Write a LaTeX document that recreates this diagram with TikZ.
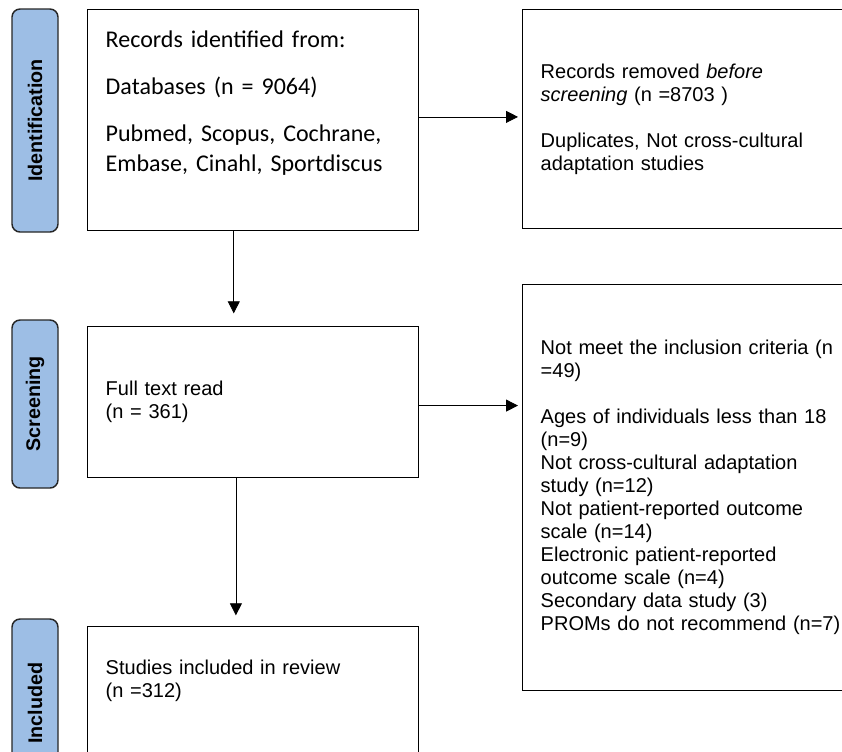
\documentclass[tikz,border=0pt]{standalone}
\usepackage{fontspec}
\setmainfont{Liberation Sans}
\newfontfamily\calfont{Carlito}
\usepackage{tikz}
\usetikzlibrary{arrows.meta}
\definecolor{phase}{RGB}{157,190,229}

\begin{document}
\begin{tikzpicture}[x=0.75pt,y=-0.75pt,
  box/.style={draw, line width=1.1pt, anchor=north west, align=left,
    text width=221.25pt, inner xsep=13.5pt, minimum width=248.25pt,
    font=\fontsize{15}{17.25}\selectfont},
  phasebox/.style={draw=black!85, line width=1.1pt, fill=phase, rounded corners=6pt,
    rotate=90, minimum height=34.5pt, font=\fontsize{14.8}{16}\selectfont\bfseries},
  arr/.style={line width=0.6pt, -{Triangle[length=9pt,width=9pt]}}]
\useasboundingbox (0,0) rectangle (842,751);
% phase labels
\node[phasebox, minimum width=167.25pt] (idf) at (35,120.5) {Identification};
\node[phasebox, minimum width=126pt] (scr) at (35,404) {Screening};
\node[phasebox, minimum width=126pt] (inc) at (35,703) {Included};
% main column
\node[box, minimum height=165.75pt, font=\calfont\fontsize{18}{22}\selectfont] (rec) at (87,9)
  {Records identified from:\\[13.5pt]
   Databases (n = 9064)\\[13.5pt]
   Pubmed, Scopus, Cochrane,\\ Embase, Cinahl, Sportdiscus\\[7pt]\mbox{}};
\node[box, minimum height=113.25pt] (full) at (87,326) {Full text read\\ (n = 361)};
\node[box, minimum height=113.25pt] (incl) at (87,626)
  {Studies included in review\\ (n =312)\\[17.25pt]\mbox{}};
% excluded column
\node[box, text width=230pt, minimum height=164.25pt] (rem) at (522,9)
  {Records removed \textit{before}\\ \textit{screening} (n =8703 )\\[17.25pt]
   Duplicates, Not cross-cultural\\ adaptation studies};
\node[box, text width=230pt, minimum height=304.5pt] (excl) at (522,284)
  {Not meet the inclusion criteria (n\\ =49)\\[17.25pt]
   Ages of individuals less than 18\\ (n=9)\\
   Not cross-cultural adaptation\\ study (n=12)\\
   Not patient-reported outcome\\ scale (n=14)\\
   Electronic patient-reported\\ outcome scale (n=4)\\
   Secondary data study (3)\\
   PROMs do not recommend (n=7)};
% arrows
\draw[arr, shorten >=3pt] ([yshift=2.5pt]rec.east) -- ([yshift=2.5pt]rec.east -| rem.west);
\draw[arr, shorten >=3pt] ([yshift=-2.5pt]full.east) -- ([yshift=-2.5pt]full.east -| excl.west);
\draw[arr, shorten >=9.5pt] ([xshift=-14.6pt]rec.south) -- ([xshift=-14.6pt]rec.south |- full.north);
\draw[arr, shorten >=8pt] ([xshift=-13pt]full.south) -- ([xshift=-13pt]full.south |- incl.north);
\end{tikzpicture}
\end{document}
